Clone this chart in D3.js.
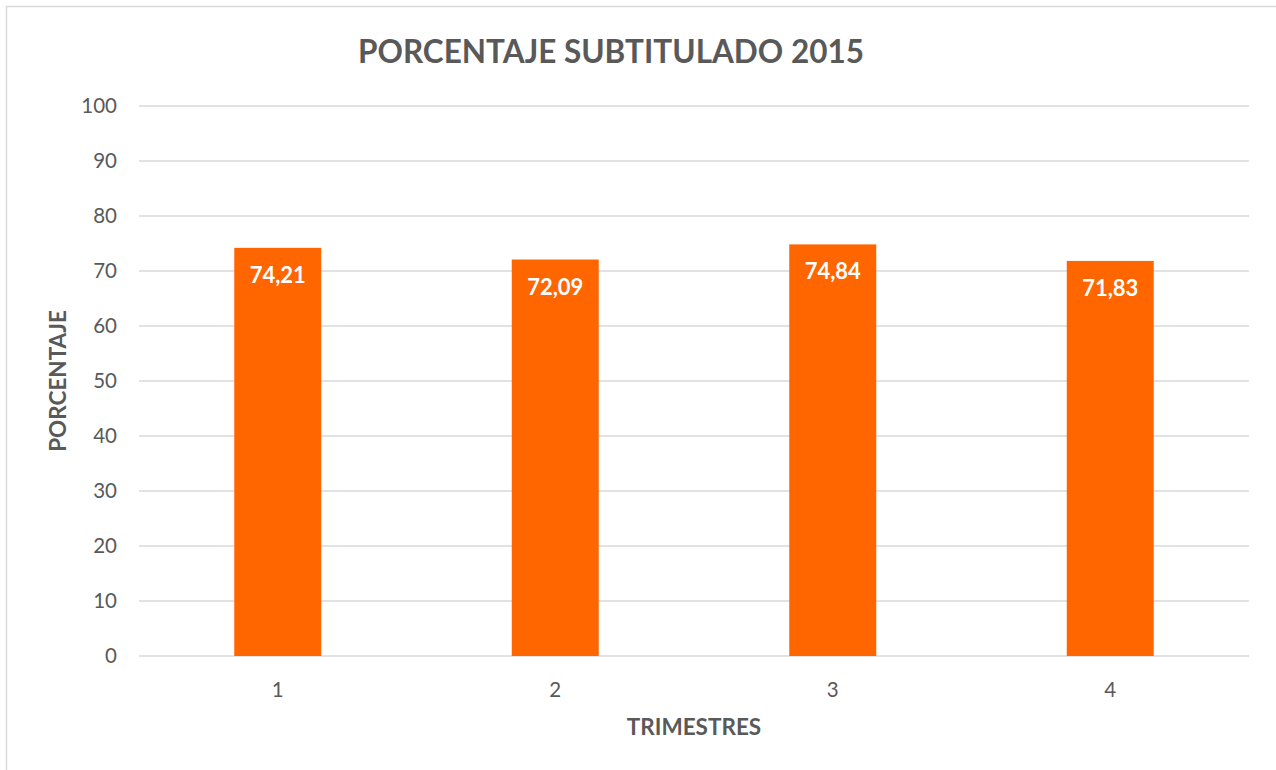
<!DOCTYPE html>
<html><head><meta charset="utf-8">
<script src="https://cdn.jsdelivr.net/npm/d3@7"></script>
<style>body{margin:0;background:#fff}svg{display:block}</style>
</head><body>
<script>
const categories = ["1","2","3","4"];
const values = [74.21, 72.09, 74.84, 71.83];
const yTicks = [0,10,20,30,40,50,60,70,80,90,100];
const title = "PORCENTAJE SUBTITULADO 2015";
const xTitle = "TRIMESTRES";
const yTitle = "PORCENTAJE";

const W = 1276, H = 770;
const svg = d3.select("body").append("svg").attr("width", W).attr("height", H);
const font = "Lato, 'Open Sans', sans-serif";

svg.append("rect").attr("x",6.5).attr("y",6.5).attr("width",W+20).attr("height",H+20)
  .attr("fill","#fff").attr("stroke","#d9d9d9").attr("stroke-width",1.5);

const m = {l:139, r:1249, t:106, b:656};
const x = d3.scaleBand().domain(categories).range([m.l, m.r]).paddingInner(2.19/3.19).paddingOuter(2.19/3.19/2);
const y = d3.scaleLinear().domain([0,100]).range([m.b, m.t]);

// grid
svg.append("g").selectAll("line").data(yTicks).join("line")
  .attr("x1", m.l).attr("x2", m.r).attr("y1", d=>y(d)).attr("y2", d=>y(d))
  .attr("stroke","#d9d9d9").attr("stroke-width",1.5);

// y labels
svg.append("g").selectAll("text").data(yTicks).join("text")
  .attr("x",117).attr("y",d=>y(d)).attr("dy","0.35em").attr("text-anchor","end")
  .attr("font-family",font).attr("font-size",20.5).attr("fill","#595959").text(d=>d);

// bars
svg.append("g").selectAll("rect").data(values).join("rect")
  .attr("x",(d,i)=>x(categories[i])).attr("width",x.bandwidth())
  .attr("y",d=>y(d)).attr("height",d=>y(0)-y(d)).attr("fill","#FF6600");

// data labels
svg.append("g").selectAll("text").data(values).join("text")
  .attr("x",(d,i)=>x(categories[i])+x.bandwidth()/2).attr("y",d=>y(d)+35)
  .attr("text-anchor","middle").attr("font-family",font).attr("font-weight","bold")
  .attr("font-size",22).attr("fill","#fff").text(d=>d.toFixed(2).replace(".",","));

// x labels
svg.append("g").selectAll("text").data(categories).join("text")
  .attr("x",d=>x(d)+x.bandwidth()/2).attr("y",697).attr("text-anchor","middle")
  .attr("font-family",font).attr("font-size",20.5).attr("fill","#595959").text(d=>d);

// title
svg.append("text").attr("x",611).attr("y",63).attr("text-anchor","middle")
  .attr("font-family",font).attr("font-weight","bold").attr("font-size",31.5)
  .attr("fill","#595959").text(title);

svg.append("text").attr("x",694).attr("y",735).attr("text-anchor","middle")
  .attr("font-family",font).attr("font-weight","bold").attr("font-size",22.5)
  .attr("fill","#595959").text(xTitle);

svg.append("text").attr("transform","translate(66,381) rotate(-90)").attr("text-anchor","middle")
  .attr("font-family",font).attr("font-weight","bold").attr("font-size",22.5)
  .attr("fill","#595959").text(yTitle);
</script>
</body></html>
